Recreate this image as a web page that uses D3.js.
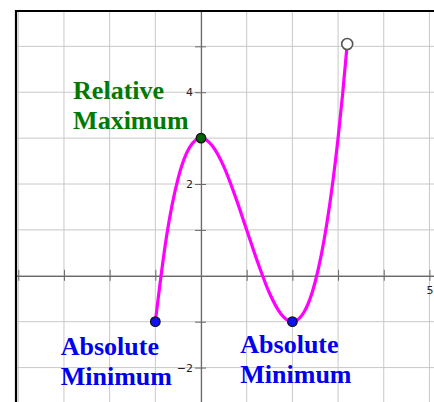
<!DOCTYPE html>
<html>
<head>
<meta charset="utf-8">
<script src="https://cdn.jsdelivr.net/npm/d3@7"></script>
<style>
  body { margin: 0; background: #fff; }
  svg { display: block; }
</style>
</head>
<body>
<svg id="chart" width="434" height="402"></svg>
<script>
// curve
var curveX = [-1, -0.75, -0.5, -0.25, 0, 0.25, 0.5, 0.75, 1, 1.25, 1.5, 1.75, 2, 2.25, 2.5, 2.75, 3, 3.1, 3.2];
var curveY = [-1, 0.89, 2.13, 2.8, 3, 2.83, 2.38, 1.73, 1, 0.27, -0.38, -0.83, -1, -0.8, -0.13, 1.11, 3, 3.96, 5.05];

var pointX = [-1, 0, 2, 3.2];
var pointY = [-1, 3, -1, 5.05];
var pointKind = ["min", "max", "min", "open"];

var yLabels = [-2, 2, 4];
var xLabels = [5];

var labelText = [["Relative", "Maximum"], ["Absolute", "Minimum"], ["Absolute", "Minimum"]];
var labelX = [-2.8, -3.07, 0.86];
var labelY = [3.85, -1.73, -1.69];
var labelKind = ["max", "min", "min"];

var margin = {top: 11, left: 16, right: 0, bottom: 0};
var width = 434, height = 402;

var svg = d3.select("#chart");

var xScale = d3.scaleLinear()
  .domain([-4.05, 5.1])
  .range([margin.left, width - margin.right]);
var yScale = d3.scaleLinear()
  .domain([5.77, -2.75])
  .range([margin.top, height - margin.bottom]);

var fillFor = {min: "#1010f0", max: "#006400", open: "#fff"};
var textFor = {min: "#0000ee", max: "#007a00"};

// grid
var gx = d3.range(-4, 6).filter(function(d) { return xScale(d) > margin.left + 1; });
var gy = d3.range(-2, 6);
var grid = svg.append("g").attr("stroke", "#c8c8c8").attr("stroke-width", 1);
grid.selectAll("line.v").data(gx).enter().append("line")
  .attr("x1", function(d) { return xScale(d); })
  .attr("x2", function(d) { return xScale(d); })
  .attr("y1", margin.top)
  .attr("y2", height);
grid.selectAll("line.h").data(gy).enter().append("line")
  .attr("x1", margin.left)
  .attr("x2", width)
  .attr("y1", function(d) { return yScale(d); })
  .attr("y2", function(d) { return yScale(d); });

// axes
var xAxis = svg.append("g")
  .attr("transform", "translate(0," + yScale(0) + ")")
  .call(d3.axisBottom(xScale)
    .tickValues(gx.filter(function(d) { return d != 0; }))
    .tickSizeInner(6).tickSizeOuter(0).tickPadding(4)
    .tickFormat(function(d) { return xLabels.indexOf(d) >= 0 ? d : ""; }));
xAxis.selectAll(".tick line").attr("y1", -6).attr("y2", 5);

var yAxis = svg.append("g")
  .attr("transform", "translate(" + xScale(0) + ",0)")
  .call(d3.axisLeft(yScale)
    .tickValues(gy.filter(function(d) { return d != 0; }))
    .tickSizeInner(6).tickSizeOuter(0).tickPadding(2)
    .tickFormat(function(d) { return yLabels.indexOf(d) >= 0 ? d3.format("")(d) : ""; }));
yAxis.selectAll(".tick line").attr("x1", 5).attr("x2", -6);

svg.selectAll(".domain").attr("stroke", "#6a6a6a").attr("stroke-width", 1.2);
svg.selectAll(".tick line").attr("stroke", "#6a6a6a");
svg.selectAll(".tick text")
  .attr("fill", "#222")
  .style("font-family", "'DejaVu Sans', sans-serif")
  .style("font-size", "11px");

// frame
svg.append("line")
  .attr("x1", margin.left).attr("x2", margin.left)
  .attr("y1", margin.top - 1).attr("y2", height)
  .attr("stroke", "#000").attr("stroke-width", 2.2);
svg.append("line")
  .attr("x1", margin.left - 1).attr("x2", width)
  .attr("y1", margin.top).attr("y2", margin.top)
  .attr("stroke", "#000").attr("stroke-width", 2.2);

// curve
var line = d3.line()
  .x(function(d, i) { return xScale(curveX[i]); })
  .y(function(d, i) { return yScale(curveY[i]); })
  .curve(d3.curveMonotoneX);
svg.append("path")
  .attr("d", line(curveX))
  .attr("fill", "none")
  .attr("stroke", "#ff00ff")
  .attr("stroke-width", 3.2);

// points
svg.selectAll("circle.pt")
  .data(pointX)
  .enter().append("circle")
    .attr("cx", function(d) { return xScale(d); })
    .attr("cy", function(d, i) { return yScale(pointY[i]); })
    .attr("r", function(d, i) { return pointKind[i] == "open" ? 5.5 : 4.8; })
    .attr("fill", function(d, i) { return fillFor[pointKind[i]]; })
    .attr("stroke", function(d, i) { return pointKind[i] == "open" ? "#555" : "#111"; })
    .attr("stroke-width", function(d, i) { return pointKind[i] == "open" ? 1.6 : 1.2; });

// labels
labelText.forEach(function(lines, i) {
  var t = svg.append("text")
    .attr("x", xScale(labelX[i]))
    .attr("y", yScale(labelY[i]))
    .attr("fill", textFor[labelKind[i]])
    .style("font-family", "'Liberation Serif', serif")
    .style("font-weight", "bold")
    .style("font-size", "26px");
  lines.forEach(function(s, j) {
    t.append("tspan")
      .attr("x", xScale(labelX[i]))
      .attr("dy", j == 0 ? 0 : 30)
      .text(s);
  });
});
</script>
</body>
</html>
